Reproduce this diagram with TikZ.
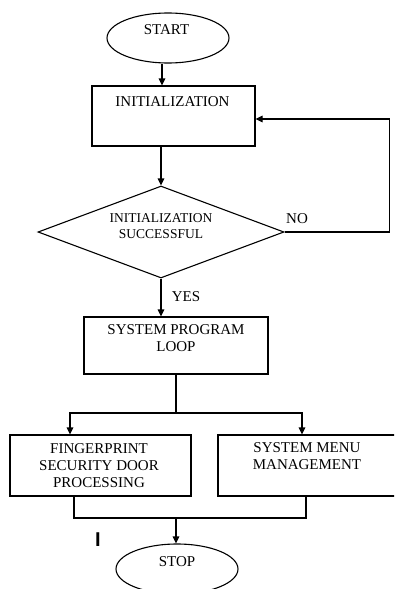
\documentclass[tikz,border=0pt]{standalone}
\usepackage{fontspec}
\setmainfont{Liberation Serif}
\newfontfamily\cursorfont{Liberation Sans}
\usetikzlibrary{shapes.geometric,arrows.meta}
\begin{document}
\begin{tikzpicture}[x=1pt,y=-1pt, line width=1.1pt,
  box/.style={draw, rectangle, inner sep=0pt},
  term/.style={draw, ellipse, inner sep=0pt, minimum width=122pt, minimum height=50pt},
  lbl/.style={inner sep=0pt, align=center, font=\fontsize{15}{17}\selectfont},
  dlbl/.style={inner sep=0pt, align=center, font=\fontsize{13.5}{16}\selectfont},
  arr/.style={-{Triangle[length=7pt,width=6.5pt]}},
]
\useasboundingbox (0,0) rectangle (394,589);
\clip (0,0) rectangle (394,589);
\fill[white] (0,0) rectangle (394,589);

% terminals
\node[term] (start) at (168,38) {};
\node[lbl] (starttxt) at (166.5,29.5) {START};

\node[term] (stop) at (177,569) {};
\node[lbl] (stoptxt) at (177,561.5) {STOP};

% boxes
\node[box, minimum width=163pt, minimum height=60pt] (init) at (173.5,116) {};
\node[lbl] (inittxt) at (172.5,101.5) {INITIALIZATION};

\node[draw, diamond, inner sep=0pt, minimum width=246pt, minimum height=92pt] (dec) at (161,232) {};
\node[dlbl] (dectxt) at (161,226.5) {INITIALIZATION\\SUCCESSFUL};

\node[box, minimum width=184pt, minimum height=57pt] (sys) at (176,345.5) {};
\node[lbl] (systxt) at (176,338.5) {SYSTEM PROGRAM\\LOOP};

\node[box, minimum width=181pt, minimum height=61pt] (fp) at (100.5,465.5) {};
\node[lbl] (fptxt) at (99,465.5) {FINGERPRINT\\SECURITY DOOR\\PROCESSING};

\node[box, minimum width=182pt, minimum height=61pt] (sm) at (309,465.5) {};
\node[lbl] (smtxt) at (307,455.75) {SYSTEM MENU\\MANAGEMENT};

% labels
\node[lbl] (no) at (297,219) {NO};
\node[lbl] (yes) at (186,297) {YES};
\node[inner sep=0pt, font=\cursorfont\bfseries\fontsize{20}{20}\selectfont] (cursor) at (98,539.5) {I};

% connectors
\draw[arr] ([xshift=-6pt]start.south) -- ([xshift=-6pt]start.south |- init.north);
\draw[arr] (init.south -| dec.north) -- (dec.north);
\draw[arr] (dec.east) -- ++(105,0) |- ([yshift=-3pt]init.east);
\draw[arr] (dec.south) -- (dec.south |- sys.north);

\coordinate (split) at (176,413);
\coordinate (join) at (176,518);
\draw (sys.south) -- (split);
\draw[arr] (split) -| ([xshift=-30.5pt]fp.north);
\draw[arr] (split) -| ([xshift=-7pt]sm.north);
\draw ([xshift=-26.5pt]fp.south) |- (join) -| ([xshift=-3pt]sm.south);
\draw[arr] (join) -- (join |- stop.north);
\end{tikzpicture}
\end{document}
